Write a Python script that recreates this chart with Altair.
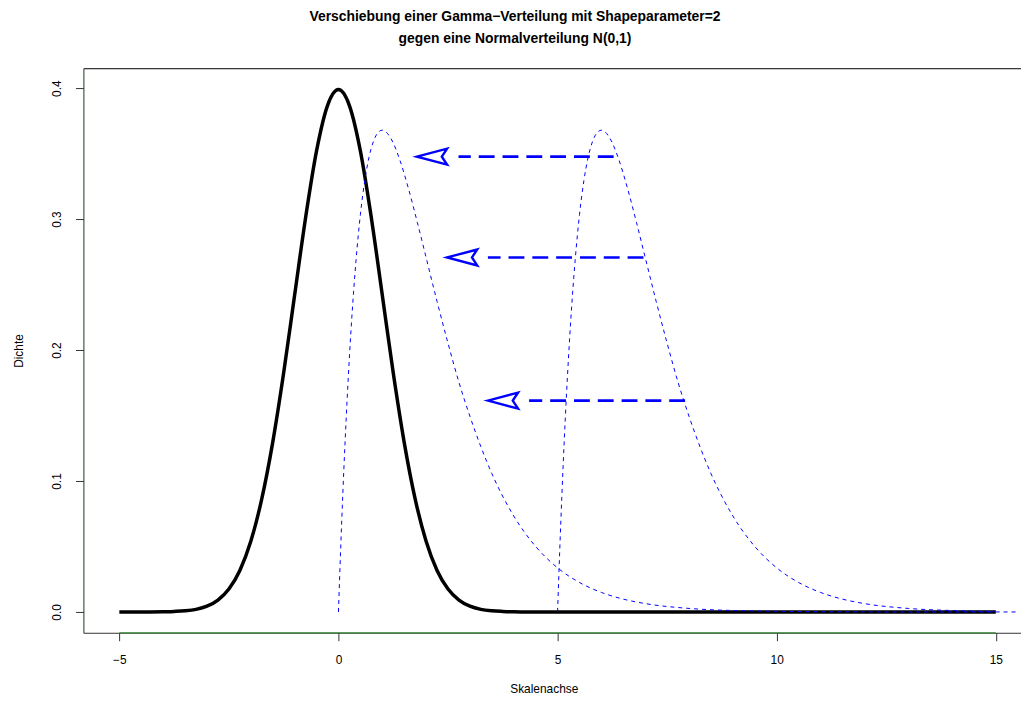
import altair as alt
import pandas as pd

# ---- data ----
norm_x = [-5, -4.5, -4, -3.75, -3.5, -3.25, -3, -2.75, -2.5, -2.25, -2, -1.75, -1.5, -1.25, -1, -0.75, -0.5, -0.25,
          0, 0.25, 0.5, 0.75, 1, 1.25, 1.5, 1.75, 2, 2.25, 2.5, 2.75, 3, 3.25, 3.5, 3.75, 4, 4.5, 5, 7, 10, 12.5, 15]
norm_y = [0.0, 0.0, 0.0001, 0.0004, 0.0009, 0.0020, 0.0044, 0.0091, 0.0175, 0.0317, 0.0540, 0.0863, 0.1295, 0.1826,
          0.2420, 0.3011, 0.3521, 0.3867,
          0.3989, 0.3867, 0.3521, 0.3011, 0.2420, 0.1826, 0.1295, 0.0863, 0.0540, 0.0317, 0.0175, 0.0091, 0.0044,
          0.0020, 0.0009, 0.0004, 0.0001, 0.0, 0.0, 0.0, 0.0, 0.0, 0.0]

gamma_x = [0, 0.05, 0.1, 0.2, 0.3, 0.4, 0.5, 0.6, 0.7, 0.8, 0.9, 1.0, 1.2, 1.4, 1.6, 1.8, 2.0, 2.25, 2.5, 2.75,
           3.0, 3.5, 4.0, 4.5, 5.0, 5.5, 6.0, 6.5, 7.0, 8.0, 9.0, 10.0, 11.0, 12.0, 13.0, 15.5]
gamma_y = [0.0, 0.0476, 0.0905, 0.1637, 0.2222, 0.2681, 0.3033, 0.3293, 0.3476, 0.3595, 0.3659, 0.3679, 0.3614,
           0.3452, 0.3230, 0.2975, 0.2707, 0.2371, 0.2052, 0.1753, 0.1494, 0.1057, 0.0733, 0.0500, 0.0337, 0.0225,
           0.0149, 0.0098, 0.0064, 0.0027, 0.0011, 0.0005, 0.0002, 0.0001, 0.0, 0.0]

shift_x = [5, 5.05, 5.1, 5.2, 5.3, 5.4, 5.5, 5.6, 5.7, 5.8, 5.9, 6.0, 6.2, 6.4, 6.6, 6.8, 7.0, 7.25, 7.5, 7.75,
           8.0, 8.5, 9.0, 9.5, 10.0, 10.5, 11.0, 11.5, 12.0, 13.0, 14.0, 15.0]
shift_y = [0.0, 0.0476, 0.0905, 0.1637, 0.2222, 0.2681, 0.3033, 0.3293, 0.3476, 0.3595, 0.3659, 0.3679, 0.3614,
           0.3452, 0.3230, 0.2975, 0.2707, 0.2371, 0.2052, 0.1753, 0.1494, 0.1057, 0.0733, 0.0500, 0.0337, 0.0225,
           0.0149, 0.0098, 0.0064, 0.0027, 0.0011, 0.0005]

arrow_y = [0.3477, 0.2707, 0.1614]
arrow_start_x = [6.28, 6.96, 7.91]
arrow_end_x = [2.74, 3.41, 4.35]
arrow_head_x = [2.135, 2.823, 3.754]

x_ticks = [-5, 0, 5, 10, 15]
y_ticks = [0.0, 0.1, 0.2, 0.3, 0.4]
x_domain = [-5.82, 15.575]
y_domain = [-0.0159, 0.4152]
axis_span = [-5, 15]

title_lines = ["Verschiebung einer Gamma\u2212Verteilung mit Shapeparameter=2",
               "gegen eine Normalverteilung N(0,1)"]

FONT = "Liberation Sans"
BLUE = "#0000FF"

df_norm = pd.DataFrame({"x": norm_x, "y": norm_y})
df_gamma = pd.DataFrame({"x": gamma_x, "y": gamma_y})
df_shift = pd.DataFrame({"x": shift_x, "y": shift_y})
df_arrow = pd.DataFrame({"x": arrow_start_x, "xe": arrow_end_x, "xh": arrow_head_x, "y": arrow_y})
df_span = pd.DataFrame({"x": [axis_span[0]], "x2": [axis_span[1]], "y": [y_domain[0]]})

xs = alt.Scale(domain=x_domain, nice=False, zero=False)
ys = alt.Scale(domain=y_domain, nice=False, zero=False)

y_axis = alt.Axis(
    values=y_ticks, format=".1f", title="Dichte", orient="left", grid=False,
    domainColor="#1a3a1a", labelAngle=270, labelAlign="center", labelBaseline="bottom", labelPadding=12,
    titleX=-65, titleY=284.5, titleAngle=270, titleAlign="center", titleBaseline="middle")
Y = alt.Y("y:Q", scale=ys, axis=y_axis)

normal = alt.Chart(df_norm).mark_line(color="black", strokeWidth=3.5, interpolate="monotone").encode(
    x=alt.X("x:Q", scale=xs, axis=alt.Axis(
        values=x_ticks, format="d", title="Skalenachse", orient="bottom", grid=False,
        domainColor="#333333", titleX=464, titleY=56, titleBaseline="middle", titleAlign="center",
        labelPadding=14, labelBaseline="top")),
    y=Y,
)

gamma = alt.Chart(df_gamma).mark_line(color=BLUE, strokeWidth=1, strokeDash=[4, 4], interpolate="monotone").encode(
    x=alt.X("x:Q", scale=xs, axis=None), y=Y)

shifted = alt.Chart(df_shift).mark_line(color=BLUE, strokeWidth=1, strokeDash=[4, 4], interpolate="monotone").encode(
    x=alt.X("x:Q", scale=xs, axis=None), y=Y)

arrows = alt.Chart(df_arrow).mark_rule(color=BLUE, strokeWidth=2.6, strokeDash=[16, 8]).encode(
    x=alt.X("x:Q", scale=xs, axis=None), x2="xe:Q", y=Y)

heads = alt.Chart(df_arrow).mark_point(
    shape="M -1 0 L 1 -0.53 L 0.65 0 L 1 0.53 Z", size=922, filled=False,
    stroke=BLUE, strokeWidth=2.4, opacity=1, strokeJoin="miter").encode(
    x=alt.X("xh:Q", scale=xs, axis=None), y=Y)

span = alt.Chart(df_span).mark_rule(color="#2f8f2f", strokeWidth=1.2).encode(
    x=alt.X("x:Q", scale=xs, axis=alt.Axis(orient="top", labels=False, ticks=False, domain=True,
                                           domainColor="black", title=None, grid=False)),
    x2="x2:Q",
    y=Y)

chart = alt.layer(normal, gamma, shifted, arrows, heads, span).resolve_axis(x="independent").properties(
    width=945, height=569,
    background="white",
    autosize=alt.AutoSizeParams(type="none"),
    padding={"left": 76, "top": 58, "right": 0, "bottom": 60},
    title=alt.TitleParams(text=title_lines, fontSize=14, fontWeight="bold", font=FONT, color="black",
                          lineHeight=23, anchor="middle", frame="group", dx=-37.5, offset=22),
).configure_view(stroke=None).configure_axis(
    labelFont=FONT, titleFont=FONT, labelFontSize=12, titleFontSize=12, titleFontWeight="normal",
    labelColor="black", titleColor="black", tickColor="#333333", tickSize=8, tickWidth=1,
    domainWidth=1, grid=False,
)

chart.save("out.html", embed_options={"renderer": "svg", "actions": False})
